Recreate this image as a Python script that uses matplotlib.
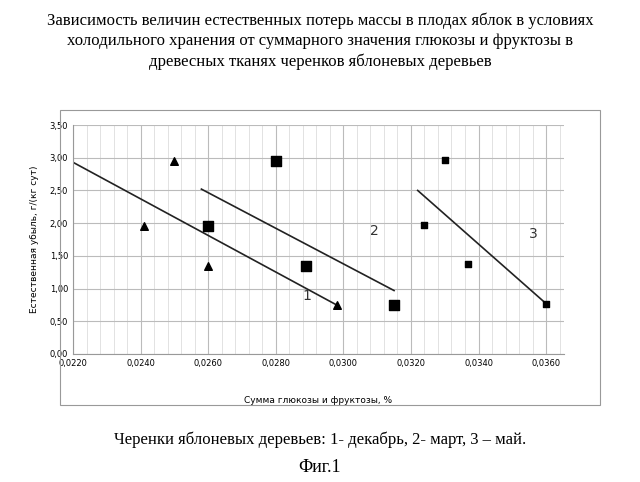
import matplotlib
matplotlib.use("Agg")
import matplotlib.pyplot as plt
import numpy as np
from matplotlib.ticker import MultipleLocator, FuncFormatter

s1_x = [0.0241, 0.0250, 0.0260, 0.0298]
s1_y = [1.95, 2.95, 1.35, 0.75]
s2_x = [0.0260, 0.0280, 0.0289, 0.0315]
s2_y = [1.95, 2.95, 1.35, 0.75]
s3_x = [0.0324, 0.0330, 0.0337, 0.0360]
s3_y = [1.97, 2.97, 1.37, 0.77]
t1_x = [0.0220, 0.0298]; t1_y = [2.93, 0.75]
t2_x = [0.0258, 0.0315]; t2_y = [2.52, 0.97]
t3_x = [0.0322, 0.0360]; t3_y = [2.50, 0.77]

fig = plt.figure(figsize=(6.4, 4.82), dpi=100)
fig.patch.set_facecolor("white")
ser = "Liberation Serif"
fig.text(0.5, 0.975, "Зависимость величин естественных потерь массы в плодах яблок в условиях\n"
         "холодильного хранения от суммарного значения глюкозы и фруктозы в\n"
         "древесных тканях черенков яблоневых деревьев",
         ha="center", va="top", fontsize=12, family=ser, linespacing=1.35)
box = plt.Rectangle((60/640, 1-405/482), 540/640, 295/482, transform=fig.transFigure,
                    fill=False, edgecolor="#999999", lw=0.8)
fig.add_artist(box)

ax = fig.add_axes([73/640, 1-354/482, (564-73)/640, (354-125)/482])
ax.set_xlim(0.0220, 0.03653)
ax.set_ylim(0, 3.5)
ax.xaxis.set_major_locator(MultipleLocator(0.002))
ax.xaxis.set_minor_locator(MultipleLocator(0.0004))
ax.yaxis.set_major_locator(MultipleLocator(0.5))
ax.xaxis.set_major_formatter(FuncFormatter(lambda v, p: f"{v:.4f}".replace(".", ",")))
ax.yaxis.set_major_formatter(FuncFormatter(lambda v, p: f"{v:.2f}".replace(".", ",")))
ax.tick_params(labelsize=6, length=0, which="both")
ax.grid(True, which="major", color="#bbbbbb", lw=0.8)
ax.grid(True, which="minor", axis="x", color="#dddddd", lw=0.6)
for s in ["top", "right"]:
    ax.spines[s].set_visible(False)
for s in ["left", "bottom"]:
    ax.spines[s].set_color("#999999")

ax.scatter(s1_x, s1_y, marker="^", s=30, color="black", zorder=3)
ax.scatter(s2_x, s2_y, marker="s", s=55, color="black", zorder=3)
ax.scatter(s3_x, s3_y, marker="s", s=22, color="black", zorder=3)
ax.plot(t1_x, t1_y, color="#222222", lw=1.2)
ax.plot(t2_x, t2_y, color="#222222", lw=1.2)
ax.plot(t3_x, t3_y, color="#222222", lw=1.2)
ax.text(0.0288, 0.82, "1", fontsize=10, color="#333333")
ax.text(0.0308, 1.82, "2", fontsize=10, color="#333333")
ax.text(0.0355, 1.78, "3", fontsize=10, color="#333333")

ax.set_xlabel("Сумма глюкозы и фруктозы, %", fontsize=6.5, labelpad=20)
ax.set_ylabel("Естественная убыль, г/(кг сут)", fontsize=6.5, labelpad=8)

fig.text(0.5, 1-440/482, "Черенки яблоневых деревьев: 1- декабрь, 2- март, 3 – май.",
         ha="center", va="center", fontsize=12, family=ser)
fig.text(0.5, 1-467/482, "Фиг.1", ha="center", va="center", fontsize=13, family=ser)
fig.savefig("out.png", dpi=100, facecolor="white")
